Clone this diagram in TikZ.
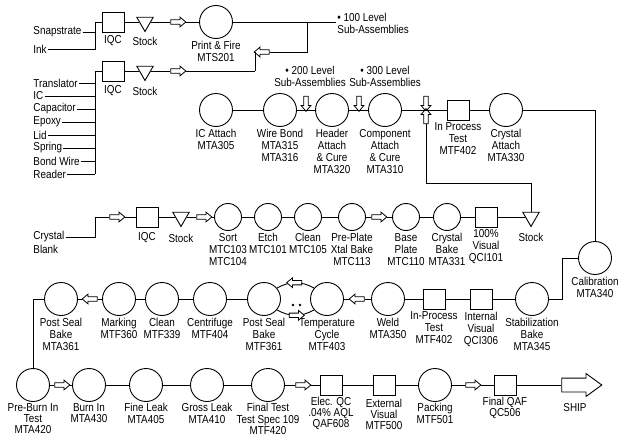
\documentclass[tikz,border=0pt]{standalone}
\usepackage{fontspec}
\setmainfont{Liberation Sans}[FakeStretch=0.86]
\usetikzlibrary{positioning,shapes.geometric,shapes.arrows}

\begin{document}
\begin{tikzpicture}[x=1pt,y=-1pt,line width=.9pt,
  op/.style={circle,draw,minimum size=33pt,inner sep=0pt},
  ops/.style={op,minimum size=27pt},
  qc/.style={draw,minimum width=22pt,minimum height=20pt,inner sep=0pt},
  stock/.style={regular polygon,regular polygon sides=3,shape border rotate=180,draw,minimum size=19pt,inner sep=0pt},
  flow/.style={single arrow,draw,fill=white,line width=.8pt,minimum height=15pt,minimum width=9pt,inner sep=1.8pt,single arrow head extend=2.7pt,single arrow tip angle=80},
  flowr/.style={flow},
  flowl/.style={flow,shape border rotate=180},
  flowd/.style={flow,shape border rotate=270},
  flowu/.style={flow,shape border rotate=90},
  ship/.style={single arrow,draw,fill=white,minimum height=40pt,minimum width=22pt,inner xsep=0pt,inner ysep=6.5pt,single arrow head extend=4.5pt,single arrow tip angle=72},
  lbl/.style={align=center,font=\fontsize{11.5}{12}\selectfont,inner sep=1pt},
  lblb/.style={lbl,font=\fontsize{11.5}{11.3}\selectfont,inner sep=0pt},
  src/.style={lbl,anchor=west,inner ysep=0pt}]
\useasboundingbox (0,0) rectangle (640,439);

% print and fire
\node[src] (snap) at (32,32) {Snapstrate};
\node[src] (ink) at (32,49) {Ink};
\coordinate (bus1t) at (95,22);
\coordinate (bus1b) at (95,49);
\node[qc] (iqc1) at (113,22) {};
\node[stock] (stk1) at (145,22) {};
\node[flowr] (a1) at (177,22) {};
\node[op] (pf) at (216,22) {};
\node[lbl] (iqc1l) at (113,41) {IQC};
\node[lbl] (stk1l) at (145,41) {Stock};
\node[lbl,below=1pt of pf] (pfl) {Print \& Fire\\MTS201};
\node[lbl,anchor=west,align=left] (sub100) at (336,23) {• 100 Level\\Sub-Assemblies};
\coordinate (k1) at (307,22);
\coordinate (k2) at (307,52);
\node[flowl] (a100) at (263,52) {};
\coordinate (k3) at (255,52);
\coordinate (k4) at (255,71);
\draw (snap.east) -- (snap.east -| bus1t);
\draw (ink.east) -- (bus1b) -- (bus1t) -- (iqc1) -- (stk1) -- (a1) -- (pf);
\draw (pf) -- (pf -| sub100.west);
\draw (k1) -- (k2) -- (a100) -- (k3) -- (k4);

% parts
\coordinate (bus2t) at (95,71);
\coordinate (bus2b) at (95,174);
\foreach \n/\t/\y in {tr/Translator/83,ic/IC/96,cap/Capacitor/109,epo/Epoxy/122,lid/Lid/135,spr/Spring/148,bw/Bond Wire/161,rd/Reader/174}{
  \node[src] (\n) at (32,\y) {\t};
  \draw (\n.east) -- (\n.east -| bus2t);
}
\node[qc] (iqc2) at (113,71) {};
\node[stock] (stk2) at (145,71) {};
\node[flowr] (a2) at (177,71) {};
\node[lbl] (iqc2l) at (113,91) {IQC};
\node[lbl] (stk2l) at (145,91) {Stock};
\draw (bus2b) -- (bus2t) -- (iqc2) -- (stk2) -- (a2) -- (k4);

% assembly
\node[op] (ica) at (216,110) {};
\node[op] (wb) at (280,110) {};
\node[flowd] (a200) at (306,102.5) {};
\node[op] (hac) at (332,110) {};
\node[flowd] (a300) at (359,102.5) {};
\node[op] (caq) at (385,110) {};
\node[flowd] (jd) at (426,102.5) {};
\node[flowu] (ju) at (426,117.5) {};
\node[qc] (ipt) at (458,110) {};
\node[op] (cra) at (506,110) {};
\coordinate (k5) at (595,110);
\node[lbl] (sub200) at (310,76) {• 200 Level\\Sub-Assemblies};
\node[lbl] (sub300) at (385,76) {• 300 Level\\Sub-Assemblies};
\node[lbl,below=1pt of ica] (ical) {IC Attach\\MTA305};
\node[lbl,below=1pt of wb] (wbl) {Wire Bond\\MTA315\\MTA316};
\node[lbl,below=1pt of hac] (hacl) {Header\\Attach\\\& Cure\\MTA320};
\node[lbl,below=1pt of caq] (caql) {Component\\Attach\\\& Cure\\MTA310};
\node[lbl,below=1pt of ipt] (iptl) {In Process\\Test\\MTF402};
\node[lbl,below=1pt of cra] (cral) {Crystal\\Attach\\MTA330};
\draw (ica) -- (wb) -- (hac) -- (caq) -- (ipt) -- (cra) -- (k5);

% crystal
\node[src] (cry) at (32,237) {Crystal};
\node[src] (blank) at (32,249) {Blank};
\coordinate (k8) at (95,237);
\coordinate (k9) at (95,217);
\node[flowr] (a3) at (116,217) {};
\node[qc] (iqc3) at (147,217) {};
\node[stock] (stk3) at (181,217) {};
\node[flowr] (a4) at (203,217) {};
\node[ops] (sort) at (228,217) {};
\node[ops] (etch) at (268,217) {};
\node[ops] (cln1) at (308,217) {};
\node[ops] (pre) at (352,217) {};
\node[flowr] (a5) at (378,217) {};
\node[ops] (base) at (406,217) {};
\node[ops] (cbk) at (447,217) {};
\node[qc] (vis) at (486,217) {};
\node[stock] (stk4) at (531,217) {};
\coordinate (k6) at (426,183);
\coordinate (k7) at (531,183);
\node[lbl] (iqc3l) at (147,238) {IQC};
\node[lbl] (stk3l) at (181,238) {Stock};
\node[lbl,below=1pt of sort] (sortl) {Sort\\MTC103\\MTC104};
\node[lbl,below=1pt of etch] (etchl) {Etch\\MTC101};
\node[lbl,below=1pt of cln1] (cln1l) {Clean\\MTC105};
\node[lbl,below=1pt of pre] (prel) {Pre-Plate\\Xtal Bake\\MTC113};
\node[lbl,below=1pt of base] (basel) {Base\\Plate\\MTC110};
\node[lbl,below=1pt of cbk] (cbkl) {Crystal\\Bake\\MTA331};
\node[lbl,below=1pt of vis] (visl) {100\%\\Visual\\QCI101};
\node[lbl] (stk4l) at (531,237) {Stock};
\draw (cry.east) -- (k8) -- (k9) -- (a3) -- (iqc3) -- (stk3) -- (a4) -- (sort) -- (etch) -- (cln1) -- (pre) -- (a5) -- (base) -- (cbk) -- (vis) -- (stk4);
\draw (ju.tail) -- (k6) -- (k7) -- (stk4);

% sealing
\node[op] (cal) at (595,258) {};
\coordinate (k10) at (562,258);
\coordinate (k11) at (562,299);
\node[op] (stab) at (532,299) {};
\node[qc] (ivis) at (481,299) {};
\node[qc] (ipt2) at (434,299) {};
\node[op] (weld) at (388,299) {};
\node[flowl] (a6) at (358,299) {};
\node[op] (tc) at (327,299) {};
\node[op] (psb2) at (264,299) {};
\node[op] (cent) at (210,299) {};
\node[op] (cln2) at (162,299) {};
\node[op] (mark) at (119,299) {};
\node[flowl] (a7) at (91,299) {};
\node[op] (psb1) at (61,299) {};
\coordinate (k12) at (33,299);
\node[lbl,below=1pt of cal] (call) {Calibration\\MTA340};
\node[lbl,below=1pt of stab] (stabl) {Stabilization\\Bake\\MTA345};
\node[lbl,below=1pt of ivis] (ivisl) {Internal\\Visual\\QCI306};
\node[lbl,below=1pt of ipt2] (ipt2l) {In-Process\\Test\\MTF402};
\node[lbl,below=1pt of weld] (weldl) {Weld\\MTA350};
\node[lbl,below=1pt of tc] (tcl) {Temperature\\Cycle\\MTF403};
\node[lbl,below=1pt of psb2] (psb2l) {Post Seal\\Bake\\MTF361};
\node[lbl,below=1pt of cent] (centl) {Centrifuge\\MTF404};
\node[lbl,below=1pt of cln2] (cln2l) {Clean\\MTF339};
\node[lbl,below=1pt of mark] (markl) {Marking\\MTF360};
\node[lbl,below=1pt of psb1] (psb1l) {Post Seal\\Bake\\MTA361};
\draw (cra) -- (k5) -- (cal);
\draw (cal) -- (k10) -- (k11) -- (stab) -- (ivis) -- (ipt2) -- (weld) -- (a6) -- (tc);
\draw (psb2.40) to[bend left=30] node[flowl] (lt) {} (tc.140);
\draw (tc.-140) to[bend left=30] node[flowr] (lb) {} (psb2.-40);
\fill (293,305) circle (1.3);
\fill (300,305) circle (1.3);
\draw (psb2) -- (cent) -- (cln2) -- (mark) -- (a7) -- (psb1) -- (k12);

% test and ship
\node[op] (pbi) at (33,385) {};
\node[flowr] (a8) at (61,385) {};
\node[op] (burn) at (89,385) {};
\node[op] (fine) at (146,385) {};
\node[op] (gross) at (207,385) {};
\node[op] (ftest) at (268,385) {};
\node[flowr] (a9) at (302,385) {};
\node[qc] (eqc) at (331,385) {};
\node[qc] (ext) at (384,385) {};
\node[op] (pack) at (435,385) {};
\node[flowr] (a10) at (472,385) {};
\node[qc] (fqaf) at (505,385) {};
\node[ship] (shp) at (577,385) {};
\node[lblb,below=1pt of pbi] (pbil) {Pre-Burn In\\Test\\MTA420};
\node[lblb,below=1pt of burn] (burnl) {Burn In\\MTA430};
\node[lblb,below=1pt of fine] (finel) {Fine Leak\\MTA405};
\node[lblb,below=1pt of gross] (grossl) {Gross Leak\\MTA410};
\node[lblb,below=1pt of ftest] (ftestl) {Final Test\\Test Spec 109\\MTF420};
\node[lblb,below=1pt of eqc] (eqcl) {Elec. QC\\.04\% AQL\\QAF608};
\node[lblb,below=3pt of ext] (extl) {External\\Visual\\MTF500};
\node[lblb,below=1pt of pack] (packl) {Packing\\MTF501};
\node[lblb,below=1pt of fqaf] (fqafl) {Final QAF\\QC506};
\node[lbl] (shpl) at (575,408) {SHIP};
\draw (k12) -- (pbi) -- (a8) -- (burn) -- (fine) -- (gross) -- (ftest) -- (a9) -- (eqc) -- (ext) -- (pack) -- (a10) -- (fqaf) -- (shp);
\end{tikzpicture}
\end{document}
